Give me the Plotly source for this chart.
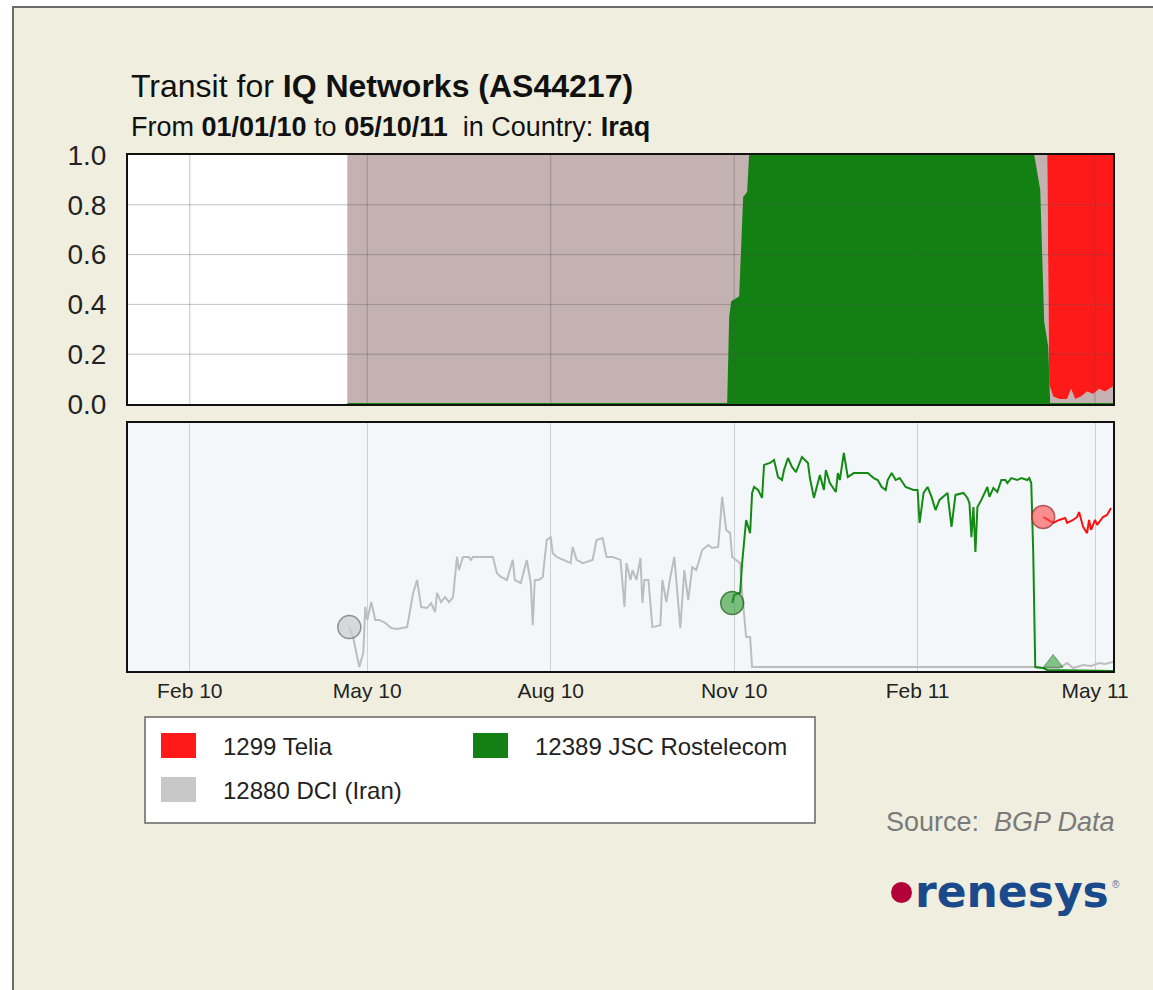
import pandas as pd
import plotly.graph_objects as go

# ---------------- data ----------------
BASE_DATE = "2010-01-01"
X_RANGE = ["2010-01-01", "2011-05-10"]
tick_dates = ["2010-02-01", "2010-05-01", "2010-08-01", "2010-11-01", "2011-02-01", "2011-05-01"]
tick_labels = ["Feb 10", "May 10", "Aug 10", "Nov 10", "Feb 11", "May 11"]
share_ticks = [0.0, 0.2, 0.4, 0.6, 0.8, 1.0]

# top panel: share of transit (days since 2010-01-01)
share_days = [110, 301, 302, 303, 307, 308, 309, 311, 312, 454, 456, 457, 459, 461,
              462, 464, 467, 471, 473, 475, 478, 481, 484, 487, 490, 494]
rostelecom_share = [0, 0, 0.35, 0.41, 0.43, 0.62, 0.83, 0.85, 1.0, 1.0, 0.91, 0.86, 0.33, 0.23,
                    0, 0, 0, 0, 0, 0, 0, 0, 0, 0, 0, 0]
dci_share = [1, 1, 0.65, 0.59, 0.57, 0.38, 0.17, 0.15, 0, 0, 0.09, 0.14, 0.67, 0.77,
             0.08, 0.03, 0.02, 0.02, 0.06, 0.02, 0.03, 0.05, 0.04, 0.06, 0.05, 0.07]
telia_share = [0, 0, 0, 0, 0, 0, 0, 0, 0, 0, 0, 0, 0, 0,
               0.92, 0.97, 0.98, 0.98, 0.94, 0.98, 0.97, 0.95, 0.96, 0.94, 0.95, 0.93]

# bottom panel: relative path counts
dci_days = [111, 113, 116, 118, 119, 120, 122, 124, 126, 129,
            132, 135, 140, 143, 145, 146, 147, 150, 152, 154,
            155, 157, 159, 161, 163, 165, 166, 168, 171, 172,
            173, 183, 185, 187, 190, 193, 194, 197, 200, 202,
            203, 204, 206, 208, 210, 212, 213, 215, 222, 223,
            225, 228, 233, 235, 238, 240, 243, 247, 249, 250,
            252, 253, 255, 257, 258, 259, 261, 263, 267, 268,
            270, 272, 274, 277, 279, 281, 283, 285, 288, 291,
            293, 296, 298, 300, 302, 303, 307, 308, 310, 312,
            313, 454, 459, 467, 471, 474, 479, 483, 487, 490,
            494]
dci_values = [17.7, 13.3, 1.6, 7.3, 25.8, 20.6, 27.8, 20.6, 20.6, 19.4,
              17.3, 16.9, 17.7, 31.5, 36.7, 31.5, 25.8, 25.4, 27.4, 23.8,
              31.5, 27.8, 29.8, 27.8, 29.8, 46, 40.7, 46, 46, 44.8,
              46, 46, 39.5, 37.9, 36.7, 44.8, 36.7, 35.5, 44.8, 35.5,
              18.5, 36.7, 36.7, 37.9, 52.8, 54, 47.6, 46, 43.5, 50,
              44.8, 43.5, 44.8, 52.8, 53.6, 46, 46, 44.8, 25.8, 43.5,
              36.7, 40.7, 36.7, 45.6, 27.4, 36.7, 36.7, 17.7, 18.5, 36.7,
              27.8, 37.9, 46, 17.3, 40.7, 28.6, 41.9, 40.7, 48.8, 50.8,
              49.6, 50, 70.2, 56.9, 55.6, 46, 43.5, 31.5, 13.7, 13.7,
              1.6, 1.6, 1.2, 1.2, 3.2, 1.2, 2.4, 2.0, 3.2, 2.8,
              3.6]

rostelecom_days = [303, 304, 307, 308, 310, 312, 313, 314, 316, 318,
                   319, 322, 324, 326, 328, 329, 331, 333, 335, 338,
                   341, 342, 344, 346, 347, 349, 350, 352, 355, 356,
                   357, 359, 361, 364, 371, 374, 376, 378, 380, 381,
                   383, 385, 387, 390, 394, 396, 397, 399, 401, 403,
                   405, 407, 411, 413, 415, 419, 421, 422, 423, 424,
                   425, 426, 428, 431, 432, 434, 436, 438, 440, 441,
                   443, 446, 448, 451, 452, 453, 454, 455, 459, 461,
                   494]
rostelecom_values = [27.4, 30.6, 31.5, 43.5, 60.9, 55.6, 71.8, 74.2, 73, 69.8,
                     83.1, 83.9, 85.1, 78.2, 77, 81, 85.9, 82.3, 80.2, 86.3,
                     83.9, 77.8, 69.8, 76.2, 79, 73, 81, 75.8, 72.2, 79.8,
                     77, 87.9, 78.2, 79.8, 79.8, 77.8, 77, 74.2, 73, 77,
                     79.8, 77, 77.8, 74.2, 73, 73, 59.7, 71.8, 74.2, 70.2,
                     64.9, 69, 71.8, 58.1, 71, 71.8, 69.8, 67.7, 54, 66.1,
                     48, 66.1, 69, 74.2, 70.2, 73.8, 72.2, 77, 77, 75.8,
                     77.8, 77, 77.8, 77, 77.8, 75.8, 47.6, 1.6, 1.2, 0.4,
                     0]

telia_days = [459, 464, 467, 470, 471, 474, 476, 477, 479, 481, 482, 483, 485, 486, 489, 491, 493]
telia_values = [62.1, 59.7, 60.9, 61.7, 59.7, 60.9, 62.1, 64.1, 58.1, 55.6, 60.9, 56.9, 60.9,
                58.9, 62.1, 62.9, 65.7]

# event marker: Rostelecom withdrawal
rostelecom_end_day = [464]
rostelecom_end_value = [3.2]

legend_names = ["1299 Telia", "12389 JSC Rostelecom", "12880 DCI (Iran)"]

# ---------------- styling ----------------
FONT = "Liberation Sans, Arial, Helvetica, sans-serif"
W, H = 1153, 990
ML, MR, MT, MB = 128, 40, 155, 319
PW, PH = W - ML - MR, H - MT - MB

RED, GREEN, GREY = "#ff1a1a", "#138013", "#c8c8c8"
DCI_AREA = "#c4b1b1"


def px2x(px):
    return (px - ML) / PW


def px2y(py):
    return (H - MB - py) / PH


def to_dates(days):
    return pd.Timestamp(BASE_DATE) + pd.to_timedelta(days, unit="D")


fig = go.Figure()

# top panel (stacked shares)
sd = to_dates(share_days)
fig.add_trace(go.Scatter(x=sd, y=rostelecom_share, stackgroup="s", mode="lines",
                         line=dict(color=GREEN, width=2), fillcolor=GREEN,
                         xaxis="x", yaxis="y", hoverinfo="skip", showlegend=False))
fig.add_trace(go.Scatter(x=sd, y=dci_share, stackgroup="s", mode="lines",
                         line=dict(color=DCI_AREA, width=0), fillcolor=DCI_AREA,
                         xaxis="x", yaxis="y", hoverinfo="skip", showlegend=False))
fig.add_trace(go.Scatter(x=sd, y=telia_share, stackgroup="s", mode="lines",
                         line=dict(color=RED, width=0), fillcolor=RED,
                         xaxis="x", yaxis="y", hoverinfo="skip", showlegend=False))

# bottom panel lines
for days, vals, col, mfill, mline in [
    (dci_days, dci_values, "#bdbdbd", "rgba(205,205,205,0.75)", "rgba(120,120,120,0.8)"),
    (rostelecom_days, rostelecom_values, "#138a13", "rgba(40,150,40,0.6)", "rgba(20,90,20,0.7)"),
    (telia_days, telia_values, "#ff1010", "rgba(255,70,70,0.6)", "rgba(150,40,40,0.7)"),
]:
    d = to_dates(days)
    fig.add_trace(go.Scatter(x=d, y=vals, mode="lines", line=dict(color=col, width=2),
                             xaxis="x2", yaxis="y2", hoverinfo="skip", showlegend=False))
    fig.add_trace(go.Scatter(x=d[:1], y=vals[:1], mode="markers",
                             marker=dict(size=23, color=mfill, line=dict(color=mline, width=1.5)),
                             xaxis="x2", yaxis="y2", hoverinfo="skip", showlegend=False))

fig.add_trace(go.Scatter(x=to_dates(rostelecom_end_day), y=rostelecom_end_value, mode="markers",
                         marker=dict(symbol="triangle-up", size=17, color="rgba(40,150,40,0.55)",
                                     line=dict(color="rgba(20,90,20,0.5)", width=1)),
                         xaxis="x2", yaxis="y2", hoverinfo="skip", showlegend=False, cliponaxis=False))

shapes = []
# outer frame
shapes.append(dict(type="rect", xref="paper", yref="paper", layer="below",
                   x0=px2x(13), x1=px2x(1170), y0=px2y(7), y1=px2y(1010),
                   fillcolor="#f0efdf", line=dict(color="#6b6b6b", width=2)))
# panel backgrounds
shapes.append(dict(type="rect", xref="x domain", yref="y domain", layer="below",
                   x0=0, x1=1, y0=0, y1=1, fillcolor="white", line=dict(width=0)))
shapes.append(dict(type="rect", xref="x2 domain", yref="y2 domain", layer="below",
                   x0=0, x1=1, y0=0, y1=1, fillcolor="#f4f7fa", line=dict(width=0)))
# top-panel grid drawn over the areas
for t in tick_dates:
    shapes.append(dict(type="line", xref="x", yref="y domain", layer="above",
                       x0=t, x1=t, y0=0, y1=1, line=dict(color="rgba(80,80,80,0.35)", width=1)))
for v in share_ticks[1:-1]:
    shapes.append(dict(type="line", xref="x domain", yref="y", layer="above",
                       x0=0, x1=1, y0=v, y1=v, line=dict(color="rgba(80,80,80,0.35)", width=1)))

# legend box
shapes.append(dict(type="rect", xref="paper", yref="paper",
                   x0=px2x(145), x1=px2x(815), y0=px2y(717), y1=px2y(823),
                   fillcolor="white", line=dict(color="#666666", width=1.5)))
swatches = [(161, 733, RED), (473, 733, GREEN), (161, 777, GREY)]
for sx, sy, c in swatches:
    shapes.append(dict(type="rect", xref="paper", yref="paper",
                       x0=px2x(sx), x1=px2x(sx + 35), y0=px2y(sy), y1=px2y(sy + 25),
                       fillcolor=c, line=dict(width=0)))
# renesys dot
shapes.append(dict(type="circle", xref="paper", yref="paper",
                   x0=px2x(891), x1=px2x(912), y0=px2y(882), y1=px2y(903),
                   fillcolor="#b3003b", line=dict(width=0)))

annotations = [
    dict(text="Transit for <b>IQ Networks (AS44217)</b>", x=px2x(129), y=px2y(86),
         font=dict(size=32, color="#111")),
    dict(text="From <b>01/01/10</b> to <b>05/10/11</b>  in Country: <b>Iraq</b>", x=px2x(129), y=px2y(127),
         font=dict(size=27, color="#111")),
    dict(text=legend_names[0], x=px2x(221), y=px2y(746), font=dict(size=24, color="#222")),
    dict(text=legend_names[1], x=px2x(533), y=px2y(746), font=dict(size=24, color="#222")),
    dict(text=legend_names[2], x=px2x(221), y=px2y(790), font=dict(size=24, color="#222")),
    dict(text="Source:  <i>BGP Data</i>", x=px2x(1117), y=px2y(822), xanchor="right",
         font=dict(size=27, color="#7a7a7a")),
    dict(text="<b>renesys</b>", x=px2x(913), y=px2y(892),
         font=dict(size=44, color="#1b4a8c", family="DejaVu Sans, sans-serif")),
    dict(text="®", x=px2x(1110), y=px2y(884), font=dict(size=10, color="#5a7aa0")),
]
for a in annotations:
    a.setdefault("xanchor", "left")
    a.update(xref="paper", yref="paper", yanchor="middle", showarrow=False)

axis_common = dict(type="date", range=X_RANGE, tickvals=tick_dates, ticktext=tick_labels,
                   showline=True, mirror=True, linecolor="#111", linewidth=2,
                   zeroline=False, fixedrange=True)

fig.update_layout(
    width=W, height=H,
    margin=dict(l=ML, r=MR, t=MT, b=MB),
    paper_bgcolor="white", plot_bgcolor="rgba(0,0,0,0)",
    font=dict(family=FONT, color="#111"),
    showlegend=False,
    xaxis=dict(axis_common, domain=[0, 1], anchor="y", showticklabels=False, showgrid=False,
               ticks=""),
    yaxis=dict(domain=[px2y(404), 1], anchor="x", range=[0, 1], tickvals=share_ticks,
               tickformat=".1f", showgrid=False, showline=True, mirror=True, linecolor="#111",
               linewidth=2, zeroline=False, ticks="outside", ticklen=14,
               tickcolor="rgba(0,0,0,0)", tickfont=dict(size=28, color="#222"), fixedrange=True),
    xaxis2=dict(axis_common, domain=[0, 1], anchor="y2", showgrid=True, gridcolor="#cdd1d6",
                gridwidth=1, ticks="", tickfont=dict(size=21, color="#222")),
    yaxis2=dict(domain=[0, px2y(423)], anchor="x2", range=[0, 100], showticklabels=False,
                showgrid=False, showline=True, mirror=True, linecolor="#111", linewidth=2,
                zeroline=False, ticks="", fixedrange=True),
    shapes=shapes,
    annotations=annotations,
)

fig.write_html("out.html", config={"displayModeBar": False},
               post_script="document.body.style.margin='0';document.body.style.overflow='hidden';")
